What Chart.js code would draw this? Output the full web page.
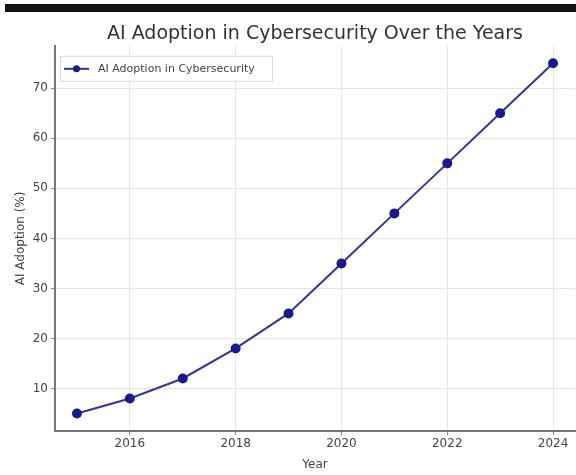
<!DOCTYPE html>
<html>
<head>
<meta charset="utf-8">
<script src="https://cdn.jsdelivr.net/npm/chart.js@4/dist/chart.umd.min.js"></script>
<style>
  body { margin: 0; background: #fff; }
  #wrap { position: relative; width: 576px; height: 475px; }
  #bar { position: absolute; left: 5px; top: 4px; width: 571px; height: 8px; background: #141414; }
</style>
</head>
<body>
<div id="wrap">
  <canvas id="mychart" width="576" height="475"></canvas>
  <div id="bar"></div>
</div>
<script>
var years = [2015, 2016, 2017, 2018, 2019, 2020, 2021, 2022, 2023, 2024]
var adoption = [5, 8, 12, 18, 25, 35, 45, 55, 65, 75]
var xTicks = [2016, 2018, 2020, 2022, 2024]
var yTicks = [10, 20, 30, 40, 50, 60, 70]

var points = []
for (var i = 0; i < years.length; i++) {
    points.push({x: years[i], y: adoption[i]})
}

// legend drawn inside the plot, like the original
var insideLegend = {
    id: 'insideLegend',
    afterDraw: function(chart) {
        var ctx = chart.ctx
        var ds = chart.data.datasets[0]
        var x = chart.chartArea.left + 5, y = chart.chartArea.top + 10
        ctx.save()
        ctx.fillStyle = 'rgba(255,255,255,0.85)'
        ctx.strokeStyle = '#d8d8d8'
        ctx.lineWidth = 1
        ctx.beginPath()
        ctx.rect(x + 0.5, y + 0.5, 212, 25)
        ctx.fill()
        ctx.stroke()
        ctx.strokeStyle = ds.borderColor
        ctx.lineWidth = 2
        ctx.beginPath()
        ctx.moveTo(x + 4, y + 13)
        ctx.lineTo(x + 29, y + 13)
        ctx.stroke()
        ctx.fillStyle = ds.pointBackgroundColor
        ctx.beginPath()
        ctx.arc(x + 16.5, y + 13, 3.5, 0, Math.PI * 2)
        ctx.fill()
        ctx.fillStyle = '#444'
        ctx.font = '11px "DejaVu Sans"'
        ctx.textBaseline = 'middle'
        ctx.fillText(ds.label, x + 38, y + 13)
        ctx.restore()
    }
}

var mychart = document.getElementById("mychart").getContext('2d')

var chart = new Chart(mychart, {
    type: 'line',
    data: {
        datasets: [
            {
                label: "AI Adoption in Cybersecurity",
                data: points,
                borderColor: "#34349a",
                borderWidth: 2,
                pointBackgroundColor: "#1a1a90",
                pointBorderColor: "#1a1a90",
                pointRadius: 4,
                tension: 0,
            },
        ]
    },
    options: {
        responsive: false,
        animation: false,
        layout: {autoPadding: false, padding: {left: 0, right: 1, top: 0, bottom: 0}},
        plugins: {
            legend: {display: false},
            tooltip: {enabled: false},
            title: {
                display: true,
                text: "AI Adoption in Cybersecurity Over the Years",
                fullSize: false,
                color: '#333',
                font: {family: 'DejaVu Sans', size: 19, weight: 'normal'},
                padding: {top: 23, bottom: 0}
            }
        },
        scales: {
            x: {
                type: 'linear',
                min: 2014.585,
                max: 2024.415,
                afterBuildTicks: function(axis) {
                    axis.ticks = xTicks.map(function(v) { return {value: v} })
                },
                afterFit: function(axis) { axis.height = 44 },
                ticks: {
                    color: '#444',
                    font: {family: 'DejaVu Sans', size: 12},
                    padding: 2,
                    callback: function(v) { return String(v) }
                },
                grid: {color: '#e6e6e6', tickLength: 4, tickColor: '#888'},
                border: {color: '#777', width: 2},
                title: {
                    display: true,
                    text: 'Year',
                    color: '#444',
                    font: {family: 'DejaVu Sans', size: 12},
                    padding: {top: 0, bottom: 3}
                }
            },
            y: {
                min: 1.5,
                max: 78.5,
                afterBuildTicks: function(axis) {
                    axis.ticks = yTicks.map(function(v) { return {value: v} })
                },
                afterFit: function(axis) { axis.width = 55 },
                ticks: {
                    color: '#444',
                    font: {family: 'DejaVu Sans', size: 12},
                    padding: 3
                },
                grid: {color: '#e6e6e6', tickLength: 4, tickColor: '#888'},
                border: {color: '#777', width: 2},
                title: {
                    display: true,
                    text: 'AI Adoption (%)',
                    color: '#444',
                    font: {family: 'DejaVu Sans', size: 12},
                    padding: {top: 14, bottom: 4}
                }
            }
        }
    },
    plugins: [insideLegend]
})
</script>
</body>
</html>
